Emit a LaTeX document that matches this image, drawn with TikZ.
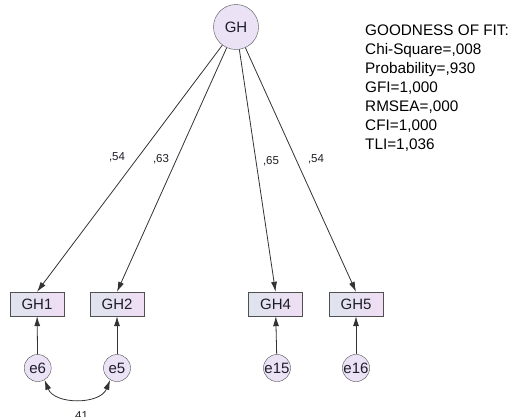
\documentclass[tikz,border=0pt]{standalone}
\usepackage{fontspec}
\setmainfont{Liberation Sans}
\usetikzlibrary{arrows.meta,shapes.geometric}
\definecolor{edgec}{RGB}{80,80,80}
\definecolor{linec}{RGB}{50,50,50}
\definecolor{lav}{RGB}{236,226,246}
\definecolor{boxL}{RGB}{222,228,238}
\definecolor{boxR}{RGB}{240,222,244}
\definecolor{txt}{RGB}{30,30,40}
\begin{document}
\begin{tikzpicture}[x=1pt,y=-1pt,
  latent/.style={circle, draw=edgec, fill=lav, minimum size=45pt, inner sep=0pt, text=txt, font=\fontsize{15}{15}\selectfont},
  obs/.style={rectangle, draw=edgec, left color=boxL, right color=boxR, minimum width=54pt, minimum height=24pt, inner sep=0pt, text=txt, font=\fontsize{15}{15}\selectfont},
  err/.style={circle, draw=edgec, fill=lav, minimum size=27pt, inner sep=0pt, text=txt, font=\fontsize{15}{15}\selectfont},
  regpath/.style={draw=linec, line width=0.8pt, -{Latex[length=10pt,width=6pt]}},
  covpath/.style={draw=linec, line width=0.8pt, {Latex[length=10pt,width=6pt]}-{Latex[length=10pt,width=6pt]}},
  coef/.style={text=txt, inner sep=0pt, font=\fontsize{11.5}{12}\selectfont},
  fitline/.style={anchor=base west, inner sep=0pt, text=black, font=\fontsize{15.3}{18}\selectfont}
]
\useasboundingbox (0,0) rectangle (524,416);

\node[latent] (GH) at (236,27) {GH};

\node[obs] (GH1) at (37,304) {GH1};
\node[obs] (GH2) at (117,304) {GH2};
\node[obs] (GH4) at (275.5,304) {GH4};
\node[obs] (GH5) at (356,304) {GH5};

\node[err] (e6) at (37.7,368) {e6};
\node[err] (e5) at (117,368) {e5};
\node[err] (e15) at (277,368) {e15};
\node[err] (e16) at (356,368) {e16};

\draw[regpath] (GH) -- (GH1.north);
\draw[regpath] (GH) -- (GH2.north);
\draw[regpath] (GH) -- (GH4.north);
\draw[regpath] (GH) -- (GH5.north);

\draw[regpath] (e6) -- (GH1);
\draw[regpath] (e5) -- (GH2);
\draw[regpath] (e15) -- (GH4);
\draw[regpath] (e16) -- (GH5);

\draw[covpath] (e6.-60) .. controls +(10,25) and +(-10,25) .. (e5.-120);

\node[coef] (c1) at (117,157) {,54};
\node[coef] (c2) at (161,159) {,63};
\node[coef] (c4) at (271,161) {,65};
\node[coef] (c5) at (316,159) {,54};
\node[coef, anchor=base] (c6) at (80,419) {,41};

\node[fitline] (f1) at (365,35) {GOODNESS OF FIT:};
\node[fitline] (f2) at (365,54) {Chi-Square=,008};
\node[fitline] (f3) at (365,73) {Probability=,930};
\node[fitline] (f4) at (365,92) {GFI=1,000};
\node[fitline] (f5) at (365,111) {RMSEA=,000};
\node[fitline] (f6) at (365,130) {CFI=1,000};
\node[fitline] (f7) at (365,149) {TLI=1,036};
\end{tikzpicture}
\end{document}
